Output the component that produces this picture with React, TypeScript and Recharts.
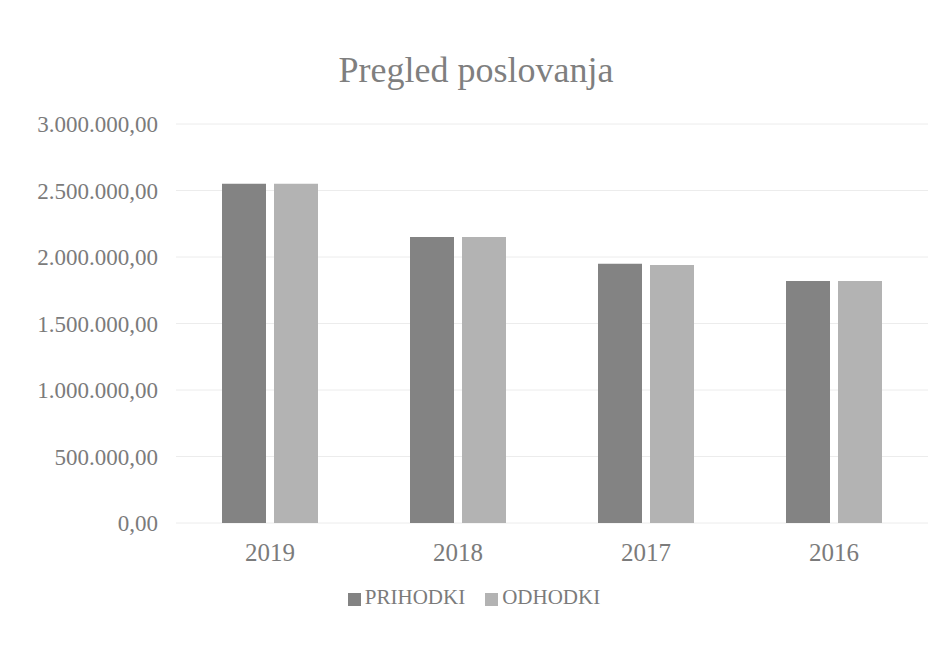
import React from 'react';
import { BarChart, Bar, XAxis, YAxis, CartesianGrid, Legend } from 'recharts';

const years = ['2019', '2018', '2017', '2016'];
const prihodki = [2550000, 2150000, 1950000, 1820000];
const odhodki = [2550000, 2150000, 1940000, 1820000];
const yTicks = [0, 500000, 1000000, 1500000, 2000000, 2500000, 3000000];

const data = years.map((year, i) => ({ year, PRIHODKI: prihodki[i], ODHODKI: odhodki[i] }));

// 2500000 -> "2.500.000,00"
const formatAmount = (v: number) => {
  const whole = Math.floor(v).toString().replace(/\B(?=(\d{3})+(?!\d))/g, '.');
  return `${whole},00`;
};

const font = '"Liberation Serif", "DejaVu Serif", serif';
const textColor = '#7b7b7b';

export default function App() {
  return (
    <div style={{ position: 'absolute', left: 0, top: 0, width: 941, height: 669, background: '#fff', fontFamily: font }}>
      <div
        style={{
          position: 'absolute',
          top: 49,
          left: 0,
          width: 952,
          textAlign: 'center',
          fontSize: 36,
          color: '#7f7f7f',
        }}
      >
        Pregled poslovanja
      </div>
      <BarChart
        width={941}
        height={669}
        data={data}
        margin={{ top: 124, right: 13, bottom: 59, left: 0 }}
        barSize={44}
        barGap={8}
      >
        <CartesianGrid vertical={false} stroke="#ececec" />
        <XAxis
          dataKey="year"
          axisLine={false}
          tickLine={false}
          height={62}
          tickMargin={14}
          tick={{ fill: textColor, fontSize: 25, fontFamily: font }}
        />
        <YAxis
          width={176}
          domain={[0, 3000000]}
          ticks={yTicks}
          axisLine={false}
          tickLine={false}
          tickSize={0}
          tickMargin={18}
          tickFormatter={formatAmount}
          tick={{ fill: textColor, fontSize: 23, fontFamily: font }}
        />
        <Legend
          verticalAlign="bottom"
          iconType="square"
          iconSize={13}
          itemSorter={null}
          wrapperStyle={{ fontSize: 21, fontFamily: font, paddingLeft: 20 }}
          formatter={(value: string) => <span style={{ color: textColor, marginRight: 10 }}>{value}</span>}
        />
        <Bar dataKey="PRIHODKI" fill="#838383" isAnimationActive={false} />
        <Bar dataKey="ODHODKI" fill="#b3b3b3" isAnimationActive={false} />
      </BarChart>
    </div>
  );
}
